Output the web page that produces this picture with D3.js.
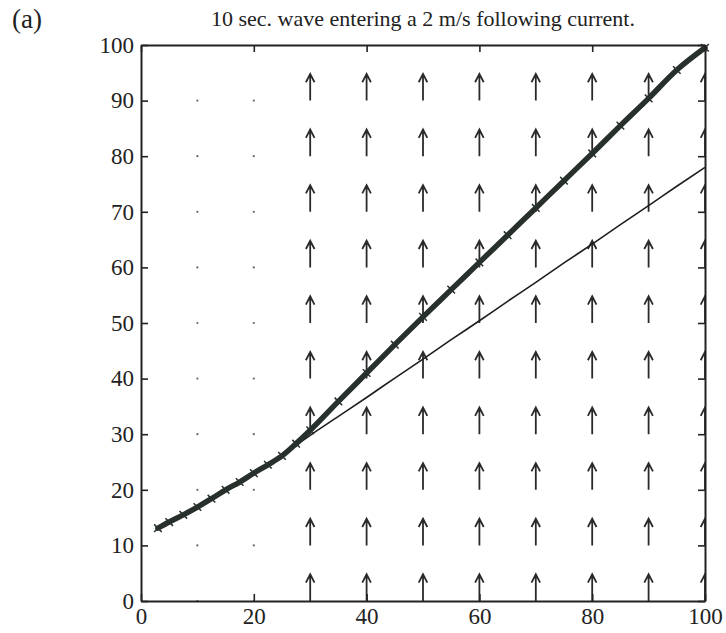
<!DOCTYPE html>
<html>
<head>
<meta charset="utf-8">
<script src="https://cdn.jsdelivr.net/npm/d3@7"></script>
<style>
  body { margin: 0; background: #fff; }
  text { fill: #222; font-family: "Liberation Serif", "DejaVu Serif", serif; }
</style>
</head>
<body>
<div id="chart"></div>
<script>
  // --- data ---
  const xTicks = [0, 20, 40, 60, 80, 100];
  const yTicks = [0, 10, 20, 30, 40, 50, 60, 70, 80, 90, 100];

  // ray path with current (thick line, x markers)
  const rayX = [3, 5, 7.5, 10, 12.5, 15, 17.5, 20, 22.5, 25, 27.5, 30, 35, 40, 45, 50, 55, 60, 65, 70, 75, 80, 85, 90, 95, 100];
  const rayY = [13.1, 14.2, 15.5, 16.9, 18.4, 20.0, 21.4, 23.0, 24.5, 26.1, 28.3, 30.7, 35.9, 41.0, 46.1, 51.1, 56.0, 60.9, 65.8, 70.7, 75.6, 80.5, 85.5, 90.4, 95.5, 99.5];

  // ray path without current (thin line)
  const refX = [3, 5, 7.5, 10, 12.5, 15, 17.5, 20, 22.5, 25, 27.5, 30, 35, 40, 45, 50, 55, 60, 65, 70, 75, 80, 85, 90, 95, 100];
  const refY = [13.1, 14.2, 15.5, 16.9, 18.4, 20.0, 21.4, 23.0, 24.5, 26.1, 28.0, 29.8, 33.2, 36.6, 40.1, 43.5, 47.0, 50.4, 53.9, 57.3, 60.8, 64.2, 67.7, 71.1, 74.6, 78.0];

  // current field: columns, rows, and vector length per column (0 = no current)
  const currentCols = [10, 20, 30, 40, 50, 60, 70, 80, 90, 100];
  const currentRows = [0, 10, 20, 30, 40, 50, 60, 70, 80, 90];
  const currentLen = [0, 0, 4.8, 4.8, 4.8, 4.8, 4.8, 4.8, 4.8, 4.8];

  const titleText = "10 sec. wave entering a 2 m/s following current.";
  const panelLabel = "(a)";

  // --- layout ---
  const W = 726, H = 633;
  const margin = { top: 45, right: 21, bottom: 32, left: 141 };
  const width = W - margin.left - margin.right,
        height = H - margin.top - margin.bottom;
  const ink = "#222";

  const svg = d3.select("#chart").append("svg")
    .attr("width", W).attr("height", H);

  const g = svg.append("g")
    .attr("transform", `translate(${margin.left},${margin.top})`);

  const x = d3.scaleLinear().domain([0, 100]).range([0, width]);
  const y = d3.scaleLinear().domain([0, 100]).range([height, 0]);

  g.append("clipPath").attr("id", "plotclip")
    .append("rect").attr("width", width).attr("height", height);

  // --- current arrows (quiver) ---
  const arrows = [];
  currentCols.forEach((cx, i) => {
    currentRows.forEach(cy => arrows.push({ x: cx, y: cy, len: currentLen[i] }));
  });

  const quiver = g.append("g").attr("clip-path", "url(#plotclip)");
  quiver.selectAll("path.arrow")
    .data(arrows.filter(d => d.len > 0))
    .join("path")
      .attr("class", "arrow")
      .attr("d", d => {
        const px = x(d.x), y0 = y(d.y), y1 = y(d.y + d.len);
        return `M${px},${y0}L${px},${y1}M${px - 4.3},${y1 + 8.3}L${px},${y1}L${px + 4.3},${y1 + 8.3}`;
      })
      .attr("fill", "none")
      .attr("stroke", "#2a2a2a")
      .attr("stroke-width", 1.8);

  quiver.selectAll("circle.dot")
    .data(arrows.filter(d => d.len === 0))
    .join("circle")
      .attr("class", "dot")
      .attr("cx", d => x(d.x))
      .attr("cy", d => y(d.y))
      .attr("r", 1.1)
      .attr("fill", "#666");

  // --- ray lines ---
  const line = d3.line().x(d => x(d[0])).y(d => y(d[1])).curve(d3.curveMonotoneX);

  g.append("path")
    .datum(d3.zip(refX, refY))
    .attr("d", line)
    .attr("fill", "none")
    .attr("stroke", "#1e1e1e")
    .attr("stroke-width", 1.6);

  g.append("path")
    .datum(d3.zip(rayX, rayY))
    .attr("d", line)
    .attr("fill", "none")
    .attr("stroke", "#28302c")
    .attr("stroke-width", 5.5)
    .attr("stroke-linecap", "round")
    .attr("stroke-linejoin", "round");

  g.append("g").selectAll("path")
    .data(d3.zip(rayX, rayY))
    .join("path")
      .attr("d", d => {
        const px = x(d[0]), py = y(d[1]), s = 3.8;
        return `M${px - s},${py - s}L${px + s},${py + s}M${px - s},${py + s}L${px + s},${py - s}`;
      })
      .attr("stroke", "#28302c")
      .attr("stroke-width", 1.5);

  // --- axes: box with inward ticks on all sides ---
  const tickLen = 7;
  const axB = g.append("g").attr("transform", `translate(0,${height})`)
    .call(d3.axisBottom(x).tickValues(xTicks).tickSizeInner(-tickLen).tickSizeOuter(0).tickPadding(7));
  const axT = g.append("g")
    .call(d3.axisTop(x).tickValues(xTicks).tickSizeInner(-tickLen).tickSizeOuter(0).tickFormat(""));
  const axL = g.append("g")
    .call(d3.axisLeft(y).tickValues(yTicks).tickSizeInner(-tickLen).tickSizeOuter(0).tickPadding(7));
  const axR = g.append("g").attr("transform", `translate(${width},0)`)
    .call(d3.axisRight(y).tickValues(yTicks).tickSizeInner(-tickLen).tickSizeOuter(0).tickFormat(""));

  [axB, axT, axL, axR].forEach(a => {
    a.select(".domain").attr("stroke", ink).attr("stroke-width", 2);
    a.selectAll(".tick line").attr("stroke", ink).attr("stroke-width", 1.6);
    a.selectAll(".tick text")
      .attr("fill", ink)
      .style("font-family", "'Liberation Serif', serif")
      .style("font-size", "23px");
  });
  axB.selectAll(".tick text").attr("dy", "0.7em");

  // --- titles ---
  svg.append("text")
    .attr("x", margin.left + width / 2)
    .attr("y", 26)
    .attr("text-anchor", "middle")
    .style("font-size", "22px")
    .text(titleText);

  svg.append("text")
    .attr("x", 12)
    .attr("y", 28)
    .style("font-size", "27px")
    .text(panelLabel);
</script>
</body>
</html>
